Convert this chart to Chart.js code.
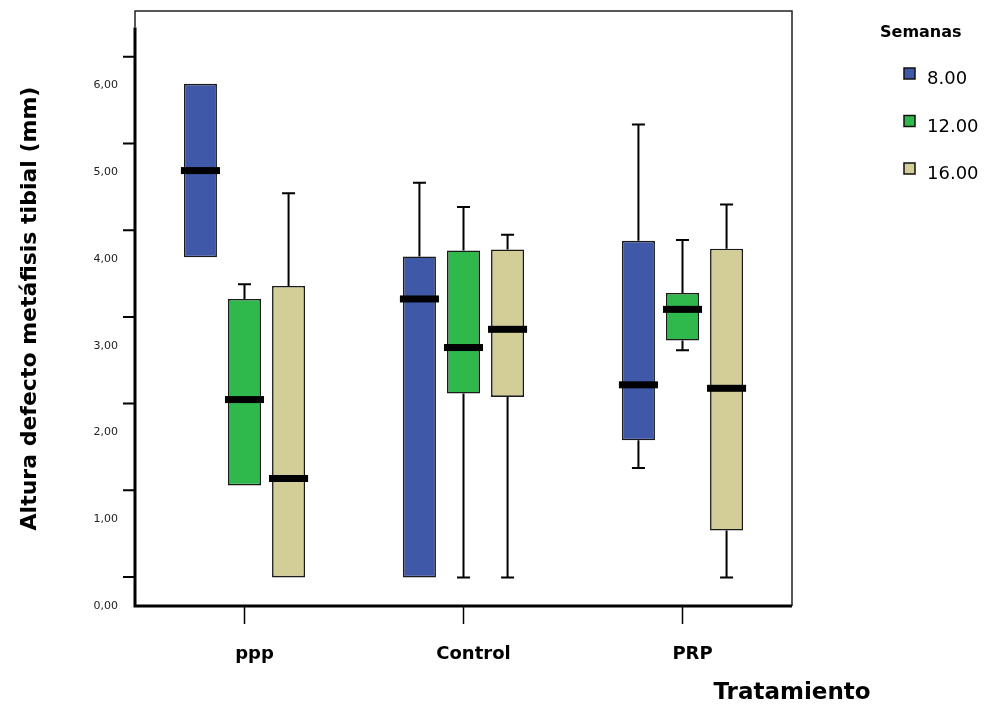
<!DOCTYPE html>
<html>
<head>
<meta charset="utf-8">
<script src="https://cdn.jsdelivr.net/npm/chart.js@4.4.0/dist/chart.umd.min.js"></script>
<style>body{margin:0;background:#fff}</style>
</head>
<body>
<canvas id="grafico" width="987" height="706"></canvas>
<script>
// grupos y semanas
const tratamientos = ['ppp', 'Control', 'PRP'];
const semanas = ['8.00', '12.00', '16.00'];
const colores = ['#3f58a8', '#2fb84b', '#d3ce98'];

// estadisticos de cada caja: minimo, cuartil 1, mediana, cuartil 3, maximo
const min8  = [4.02, 0.33, 1.59];
const q1_8  = [4.02, 0.33, 1.91];
const med8  = [5.02, 3.54, 2.55];
const q3_8  = [6.02, 4.03, 4.21];
const max8  = [6.02, 4.88, 5.55];

const min12 = [1.39, 0.33, 2.95];
const q1_12 = [1.39, 2.45, 3.06];
const med12 = [2.38, 2.98, 3.42];
const q3_12 = [3.54, 4.10, 3.61];
const max12 = [3.71, 4.60, 4.22];

const min16 = [0.33, 0.33, 0.33];
const q1_16 = [0.33, 2.41, 0.87];
const med16 = [1.47, 3.19, 2.51];
const q3_16 = [3.69, 4.11, 4.12];
const max16 = [4.76, 4.28, 4.63];

// marcas del eje y (van corridas respecto de las etiquetas)
const marcasY = [1/3, 4/3, 7/3, 10/3, 13/3, 16/3, 19/3];
const topeEjeY = 6.67;

const series = [
  {min: min8, q1: q1_8, med: med8, q3: q3_8, max: max8},
  {min: min12, q1: q1_12, med: med12, q3: q3_12, max: max12},
  {min: min16, q1: q1_16, med: med16, q3: q3_16, max: max16}
];

const fuente = 'DejaVu Sans';

const cajas = {
  id: 'cajas',
  beforeDatasetsDraw(chart) {
    const ctx = chart.ctx, y = chart.scales.y;
    ctx.save();
    ctx.strokeStyle = '#000';
    ctx.lineWidth = 2;
    chart.data.datasets.forEach((ds, i) => {
      chart.getDatasetMeta(i).data.forEach((bar, j) => {
        const x = bar.x;
        [[ds.q3[j], ds.max[j]], [ds.q1[j], ds.min[j]]].forEach(([a, b]) => {
          if (a === b) return;
          const pa = y.getPixelForValue(a), pb = y.getPixelForValue(b);
          ctx.beginPath();
          ctx.moveTo(x, pa);
          ctx.lineTo(x, pb);
          ctx.moveTo(x - 6.5, pb);
          ctx.lineTo(x + 6.5, pb);
          ctx.stroke();
        });
      });
    });
    ctx.restore();
  },
  afterDatasetsDraw(chart) {
    const ctx = chart.ctx, y = chart.scales.y;
    ctx.save();
    ctx.fillStyle = '#000';
    chart.data.datasets.forEach((ds, i) => {
      chart.getDatasetMeta(i).data.forEach((bar, j) => {
        const py = y.getPixelForValue(ds.med[j]);
        const w = bar.width + 6;
        ctx.fillRect(bar.x - w / 2, py - 3.5, w, 7);
      });
    });
    ctx.restore();
  },
  afterDraw(chart) {
    const ctx = chart.ctx, y = chart.scales.y;
    const {left, right, top, bottom} = chart.chartArea;
    ctx.save();
    // marco fino
    ctx.strokeStyle = '#222';
    ctx.lineWidth = 1.5;
    ctx.beginPath();
    ctx.moveTo(left, y.getPixelForValue(topeEjeY));
    ctx.lineTo(left, top);
    ctx.lineTo(right, top);
    ctx.lineTo(right, bottom);
    ctx.stroke();
    // ejes gruesos
    ctx.strokeStyle = '#000';
    ctx.lineWidth = 3;
    ctx.beginPath();
    ctx.moveTo(left, y.getPixelForValue(topeEjeY));
    ctx.lineTo(left, bottom);
    ctx.lineTo(right, bottom);
    ctx.stroke();
    // marcas del eje y
    ctx.lineWidth = 2;
    ctx.beginPath();
    marcasY.forEach(v => {
      const py = y.getPixelForValue(v);
      ctx.moveTo(left - 12, py);
      ctx.lineTo(left, py);
    });
    ctx.stroke();

    // leyenda
    ctx.fillStyle = '#000';
    ctx.textBaseline = 'alphabetic';
    ctx.textAlign = 'left';
    ctx.font = 'bold 16px "' + fuente + '"';
    ctx.fillText('Semanas', 880, 37);
    ctx.font = '18px "' + fuente + '"';
    semanas.forEach((s, i) => {
      const cy = 73.5 + i * 47.5;
      ctx.fillStyle = colores[i];
      ctx.fillRect(904, cy - 5.5, 11, 11);
      ctx.strokeStyle = '#111';
      ctx.lineWidth = 1.5;
      ctx.strokeRect(904, cy - 5.5, 11, 11);
      ctx.fillStyle = '#000';
      ctx.fillText(s, 927, cy + 10.5);
    });

    // titulo del eje x
    ctx.font = 'bold 23px "' + fuente + '"';
    ctx.textAlign = 'center';
    ctx.fillText('Tratamiento', 792, 699);
    ctx.restore();
  }
};

new Chart(document.getElementById('grafico'), {
  type: 'bar',
  data: {
    labels: tratamientos,
    datasets: series.map((s, i) => ({
      label: semanas[i],
      data: s.q1.map((v, j) => [v, s.q3[j]]),
      min: s.min, q1: s.q1, med: s.med, q3: s.q3, max: s.max,
      backgroundColor: colores[i],
      borderColor: '#1a1a1a',
      borderWidth: 1.6,
      borderSkipped: false,
      categoryPercentage: 0.6036,
      barPercentage: 0.75
    }))
  },
  options: {
    responsive: false,
    animation: false,
    devicePixelRatio: 1,
    layout: {padding: {top: 11, right: 195, left: 0, bottom: 0}},
    plugins: {legend: {display: false}, tooltip: {enabled: false}},
    scales: {
      x: {
        offset: true,
        border: {display: false},
        grid: {display: true, drawOnChartArea: false, drawTicks: true, tickLength: 18,
               tickColor: '#000', tickWidth: 1.5, offset: false},
        ticks: {font: {family: fuente, weight: 'bold', size: 18}, color: '#000',
                padding: 20, labelOffset: 10, maxRotation: 0},
        afterFit: s => { s.height = 100; }
      },
      y: {
        min: 0,
        max: 6.86,
        border: {display: false},
        grid: {display: false, drawTicks: true, tickLength: 13},
        ticks: {stepSize: 1, includeBounds: false, padding: 4,
                font: {family: fuente, size: 11}, color: '#222',
                callback: v => v.toFixed(2).replace('.', ',')},
        title: {display: true, text: 'Altura defecto metáfisis tibial (mm)',
                font: {family: fuente, weight: 'bold', size: 22}, color: '#000',
                padding: {top: 17, bottom: 0}},
        afterFit: s => { s.width = 135; }
      }
    }
  },
  plugins: [cajas]
});
</script>
</body>
</html>
